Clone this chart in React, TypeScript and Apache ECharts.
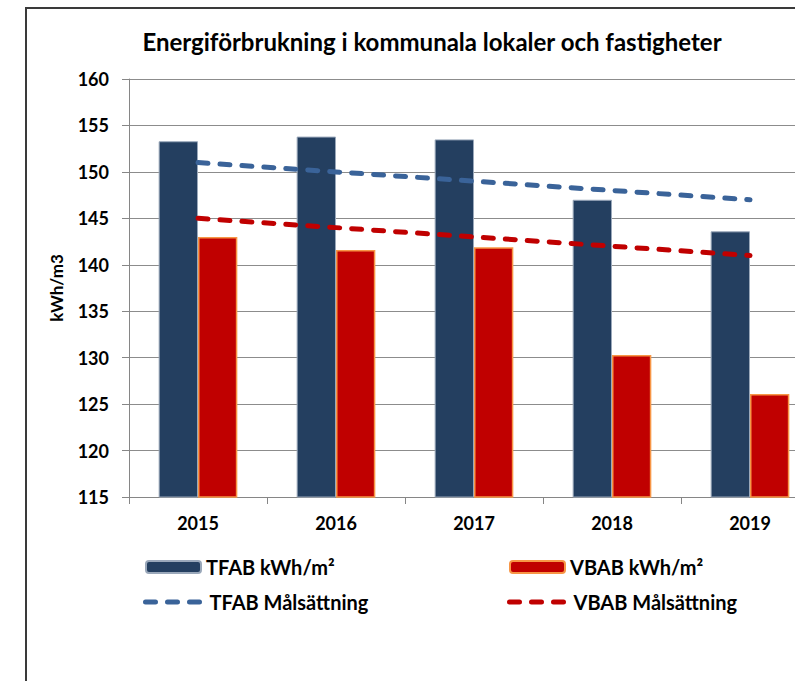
import React, { useEffect, useRef } from "react";
import * as echarts from "echarts";

const years = ["2015", "2016", "2017", "2018", "2019"];
const tfab = [153.3, 153.8, 153.5, 147.0, 143.6];
const vbab = [143.0, 141.6, 141.9, 130.3, 126.1];
const tfabGoal = [151, 150, 149, 148, 147];
const vbabGoal = [145, 144, 143, 142, 141];

const FONT = "Lato";

export default function App() {
  const ref = useRef<HTMLDivElement>(null);
  useEffect(() => {
    if (!ref.current) return;
    const chart = echarts.init(ref.current, null, { renderer: "svg" });
    const legendText = { fontFamily: FONT, fontWeight: "bold", fontSize: 20, color: "#000" };
    const barLegend = { padding: 0, itemWidth: 55, itemHeight: 12, textStyle: legendText };
    const lineLegend = {
      padding: 0,
      itemWidth: 59,
      itemHeight: 12,
      itemStyle: { opacity: 0 },
      textStyle: legendText,
    };
    chart.setOption({
      animation: false,
      backgroundColor: "#fff",
      title: {
        text: "Energiförbrukning i kommunala lokaler och fastigheter",
        left: 427,
        textAlign: "center",
        top: 24,
        textStyle: { fontFamily: FONT, fontWeight: "bold", fontSize: 24, color: "#000" },
      },
      graphic: [
        {
          type: "rect",
          shape: { x: 26, y: 8, width: 900, height: 800 },
          style: { fill: "none", stroke: "#3a3a3a", lineWidth: 2 },
          silent: true,
          z: 100,
        },
      ],
      legend: [
        { ...barLegend, left: 145, top: 557, data: ["TFAB kWh/m²"] },
        { ...barLegend, left: 509, top: 557, data: ["VBAB kWh/m²"] },
        {
          ...lineLegend,
          left: 143,
          top: 592,
          data: ["TFAB Målsättning"],
          lineStyle: { color: "#3a6399", width: 5, type: [10, 12], cap: "round" },
        },
        {
          ...lineLegend,
          left: 507,
          top: 592,
          data: ["VBAB Målsättning"],
          lineStyle: { color: "#c00000", width: 5, type: [10, 12], cap: "round" },
        },
      ],
      grid: { left: 129, top: 79, right: -24, bottom: 184, outerBoundsMode: "none", containLabel: false },
      xAxis: {
        type: "category",
        data: years,
        axisLine: { lineStyle: { color: "#868686", width: 1 } },
        axisTick: { show: true, length: 7, lineStyle: { color: "#868686" } },
        axisLabel: { margin: 17, fontFamily: FONT, fontWeight: "bold", fontSize: 18, color: "#000" },
      },
      yAxis: {
        type: "value",
        min: 115,
        max: 160,
        interval: 5,
        name: "kWh/m3",
        nameLocation: "middle",
        nameGap: 64,
        nameRotate: 90,
        nameTextStyle: { fontFamily: FONT, fontWeight: "bold", fontSize: 17, color: "#000" },
        axisLine: { show: true, lineStyle: { color: "#868686", width: 1 } },
        axisTick: { show: true, length: 7, lineStyle: { color: "#868686" } },
        axisLabel: { margin: 20, fontFamily: FONT, fontWeight: "bold", fontSize: 18, color: "#000" },
        splitLine: { lineStyle: { color: "#8c8c8c", width: 1 } },
      },
      series: [
        {
          name: "TFAB kWh/m²",
          type: "bar",
          data: tfab,
          barGap: "0%",
          barCategoryGap: "43%",
          itemStyle: { color: "#243f60", borderColor: "#9aa8ba", borderWidth: 1 },
        },
        {
          name: "VBAB kWh/m²",
          type: "bar",
          data: vbab,
          itemStyle: { color: "#c00000", borderColor: "#f79646", borderWidth: 1.5 },
        },
        {
          name: "TFAB Målsättning",
          type: "line",
          data: tfabGoal,
          symbol: "none",
          z: 5,
          lineStyle: { color: "#3a6399", width: 5, type: [10, 12], cap: "round" },
          itemStyle: { color: "#3a6399" },
        },
        {
          name: "VBAB Målsättning",
          type: "line",
          data: vbabGoal,
          symbol: "none",
          z: 5,
          lineStyle: { color: "#c00000", width: 5, type: [10, 12], cap: "round" },
          itemStyle: { color: "#c00000" },
        },
      ],
    });
    return () => chart.dispose();
  }, []);
  return (
    <div
      ref={ref}
      style={{ position: "fixed", left: 0, top: 0, width: 795, height: 681 }}
    />
  );
}
